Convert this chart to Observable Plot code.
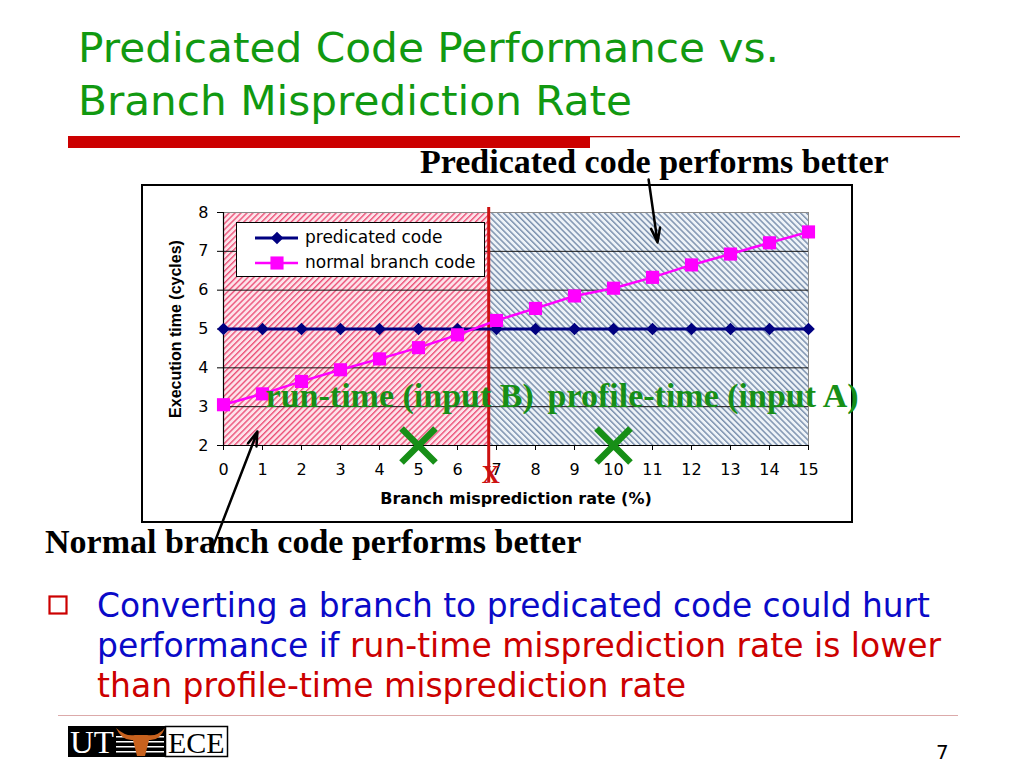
<!DOCTYPE html>
<html>
<head>
<meta charset="utf-8">
<script src="https://cdn.jsdelivr.net/npm/d3@7"></script>
<script src="https://cdn.jsdelivr.net/npm/@observablehq/plot@0.6"></script>
<style>
  html, body { margin: 0; padding: 0; background: #fff; }
  #slide { position: relative; width: 1024px; height: 768px; overflow: hidden; background: #fff; }
  #bg { position: absolute; left: 0; top: 0; }
  #chart { position: absolute; left: 0; top: 150px; width: 1024px; height: 420px; }
  #legend { position: absolute; left: 236px; top: 222px; }
  .sans { font-family: "DejaVu Sans", Verdana, sans-serif; }
  .serifb { font-family: "Liberation Serif", "Times New Roman", serif; font-weight: bold; }
</style>
</head>
<body>
<div id="slide">
  <svg width="0" height="0" style="position:absolute">
    <defs>
      <pattern id="pinkHatch" patternUnits="userSpaceOnUse" width="4.2" height="4.2" patternTransform="rotate(45)">
        <rect width="4.2" height="4.2" fill="#fde3ea"></rect>
        <rect width="1.4" height="4.2" fill="#ec5279"></rect>
      </pattern>
      <pattern id="blueHatch" patternUnits="userSpaceOnUse" width="4.2" height="4.2" patternTransform="rotate(-45)">
        <rect width="4.2" height="4.2" fill="#eef3f8"></rect>
        <rect width="1.5" height="4.2" fill="#7e93b0"></rect>
      </pattern>
    </defs>
  </svg>

  <svg id="bg" width="1024" height="768">
    <text class="sans" x="78" y="62" font-size="40" fill="#119911" textLength="701" lengthAdjust="spacingAndGlyphs">Predicated Code Performance vs.</text>
    <text class="sans" x="78" y="115" font-size="40" fill="#119911" textLength="554" lengthAdjust="spacingAndGlyphs">Branch Misprediction Rate</text>
    <rect x="68" y="136" width="522" height="12" fill="#cc0000"></rect>
    <rect x="590" y="136" width="370" height="1.3" fill="#b80000"></rect>

    <rect x="142" y="185" width="710" height="337" fill="#fff" stroke="#000" stroke-width="2"></rect>

    <text class="serifb" x="420" y="173" font-size="34" fill="#000">Predicated code performs better</text>
    <text class="serifb" x="45" y="553" font-size="34" fill="#000">Normal branch code performs better</text>

    <rect x="49.5" y="596.5" width="17" height="17" fill="none" stroke="#cc0000" stroke-width="2.2"></rect>
    <text class="sans" x="97" y="617" font-size="33" fill="#0a0ac8" textLength="833" lengthAdjust="spacingAndGlyphs">Converting a branch to predicated code could hurt</text>
    <text class="sans" x="97" y="657" font-size="33" textLength="844" lengthAdjust="spacingAndGlyphs"><tspan fill="#0a0ac8">performance if </tspan><tspan fill="#cc0000">run-time misprediction rate is lower</tspan></text>
    <text class="sans" x="97" y="697" font-size="33" fill="#cc0000" textLength="589" lengthAdjust="spacingAndGlyphs">than profile-time misprediction rate</text>

    <rect x="58" y="715" width="900" height="1" fill="#dcaaaa"></rect>

    <rect x="68" y="726" width="97" height="31" fill="#000"></rect>
    <text class="serifb" style="font-weight:normal" x="70" y="753" font-size="32" fill="#fff" textLength="44" lengthAdjust="spacingAndGlyphs">UT</text>
    <g fill="#fff">
      <rect x="116" y="736" width="48" height="1.5"></rect>
      <rect x="116" y="741" width="48" height="1.5"></rect>
      <rect x="116" y="746" width="48" height="1.5"></rect>
      <rect x="116" y="751" width="48" height="1.5"></rect>
    </g>
    <path d="M116,728 Q126,737 135,735 L147,735 Q157,737 165,728 Q160,741 149,740 L145,756 L137,756 L133,740 Q122,741 116,728 Z" fill="#c8621e"></path>
    <rect x="165.5" y="726.5" width="62" height="30" fill="#fff" stroke="#000" stroke-width="1.5"></rect>
    <text class="serifb" style="font-weight:normal" x="168" y="753" font-size="30" fill="#000">ECE</text>

    <text class="sans" x="936" y="759" font-size="20" fill="#000">7</text>
  </svg>

  <div id="chart"></div>

  <svg id="legend" width="249" height="55"></svg>
</div>

<script>
// ---- data ----
const missRates = [0, 1, 2, 3, 4, 5, 6, 7, 8, 9, 10, 11, 12, 13, 14, 15];
const predicatedCode = [5, 5, 5, 5, 5, 5, 5, 5, 5, 5, 5, 5, 5, 5, 5, 5];
const normalBranchCode = [3.05, 3.33, 3.65, 3.95, 4.23, 4.52, 4.85, 5.22, 5.53, 5.85, 6.05, 6.33, 6.65, 6.93, 7.22, 7.5];
const seriesNames = ["predicated code", "normal branch code"];
const xTicks = [0, 1, 2, 3, 4, 5, 6, 7, 8, 9, 10, 11, 12, 13, 14, 15];
const yTicks = [2, 3, 4, 5, 6, 7, 8];
const gridLines = [3, 4, 5, 6, 7];
const crossover = 6.8;            // threshold misprediction rate "X"
const runTimeRate = 5;            // input B
const profileTimeRate = 10;       // input A
const inputLabels = ["run-time (input B)", "profile-time (input A)"];
const inputLabelX = [1.08, 8.31];
const inputLabelY = 3;
const xTitle = "Branch misprediction rate (%)";
const yTitle = "Execution time (cycles)";
const arrows = [
  {x1: 10.9, y1: 8.85, x2: 11.13, y2: 7.23},
  {x1: -0.28, y1: -0.63, x2: 0.87, y2: 2.36}
];

const predRows = missRates.map((x, i) => ({x, y: predicatedCode[i]}));
const normRows = missRates.map((x, i) => ({x, y: normalBranchCode[i]}));
const crosses = [{x: runTimeRate, y: 2}, {x: profileTimeRate, y: 2}];
const labelRows = inputLabels.map((t, i) => ({t, x: inputLabelX[i], y: inputLabelY}));
const regions = [
  {x1: missRates[0], x2: crossover},
  {x1: crossover, x2: missRates[missRates.length - 1]}
];

const NAVY = "#000080", MAGENTA = "#ff00ff", GREEN = "#178f17", RED = "#cc1111";
const SANS = "DejaVu Sans, Verdana, sans-serif";
const SERIF = "Liberation Serif, Times New Roman, serif";

const chart = Plot.plot({
  width: 1024,
  height: 420,
  marginLeft: 223,
  marginRight: 216,
  marginTop: 62,
  marginBottom: 125,
  style: {background: "transparent", overflow: "visible", color: "#000"},
  x: {domain: [0, 15]},
  y: {domain: [2, 8]},
  marks: [
    Plot.rect([regions[0]], {x1: "x1", x2: "x2", fill: "url(#pinkHatch)"}),
    Plot.rect([regions[1]], {x1: "x1", x2: "x2", fill: "url(#blueHatch)"}),
    Plot.ruleY(gridLines, {stroke: "#151515", strokeWidth: 1}),
    Plot.frame({stroke: "#8a8a8a"}),
    Plot.ruleY([2], {stroke: "#000", strokeWidth: 1.2}),
    Plot.ruleX([0], {stroke: "#000", strokeWidth: 1.2}),
    Plot.axisX({ticks: xTicks, tickSize: 5, tickPadding: 13, fontSize: 16, fontFamily: SANS, label: null, tickFormat: d => String(d)}),
    Plot.axisY({ticks: yTicks, tickSize: 6, tickPadding: 9, fontSize: 16, fontFamily: SANS, label: null, tickFormat: d => String(d)}),
    Plot.text([xTitle], {frameAnchor: "bottom", dy: 58, lineAnchor: "bottom", fontWeight: "bold", fontSize: 16, fontFamily: SANS, fill: "#000"}),
    Plot.text([yTitle], {frameAnchor: "left", dx: -48, rotate: -90, textAnchor: "middle", lineAnchor: "middle", fontWeight: "bold", fontSize: 16, fontFamily: "Liberation Sans, Arial, sans-serif", fill: "#000"}),
    Plot.ruleX([crossover], {y1: 8.13, y2: 1.03, stroke: RED, strokeWidth: 3}),
    Plot.text(["X"], {x: crossover, y: 1.23, dx: 2, lineAnchor: "middle", fontSize: 25, fontWeight: "bold", fontFamily: SERIF, fill: RED}),
    Plot.line(predRows, {x: "x", y: "y", stroke: NAVY, strokeWidth: 3}),
    Plot.dot(predRows, {x: "x", y: "y", symbol: "diamond2", r: 5.7, fill: NAVY}),
    Plot.line(normRows, {x: "x", y: "y", stroke: MAGENTA, strokeWidth: 2.5}),
    Plot.dot(normRows, {x: "x", y: "y", symbol: "square", r: 7.4, fill: MAGENTA}),
    Plot.dot(crosses, {x: "x", y: "y", symbol: "times", r: 15.5, stroke: GREEN, strokeWidth: 6.5}),
    Plot.text(labelRows, {x: "x", y: "y", text: "t", textAnchor: "start", lineAnchor: "bottom", fontSize: 34, fontWeight: "bold", fontFamily: SERIF, fill: GREEN}),
    Plot.arrow(arrows, {x1: "x1", y1: "y1", x2: "x2", y2: "y2", stroke: "#000", strokeWidth: 2.5, headLength: 9, headAngle: 35})
  ]
});
document.getElementById("chart").appendChild(chart);

// ---- legend ----
const lg = d3.select("#legend");
lg.append("rect").attr("x", 0.5).attr("y", 0.5).attr("width", 248).attr("height", 54)
  .attr("fill", "#fff").attr("stroke", "#000").attr("stroke-width", 1);
const rowsY = [16, 41];
const colors = [NAVY, MAGENTA];
seriesNames.forEach((name, i) => {
  const cy = rowsY[i];
  lg.append("line").attr("x1", 19).attr("x2", 62).attr("y1", cy).attr("y2", cy)
    .attr("stroke", colors[i]).attr("stroke-width", i === 0 ? 3 : 2.5);
  const sym = i === 0 ? d3.symbol(d3.symbolDiamond2, Math.PI * 5.7 * 5.7) : d3.symbol(d3.symbolSquare, Math.PI * 7.4 * 7.4);
  lg.append("path").attr("d", sym()).attr("transform", `translate(41,${cy})`).attr("fill", colors[i]);
  lg.append("text").attr("x", 69).attr("y", cy + 4.5).attr("font-size", 17)
    .attr("font-family", SANS).attr("fill", "#000").text(name);
});
</script>
</body>
</html>
